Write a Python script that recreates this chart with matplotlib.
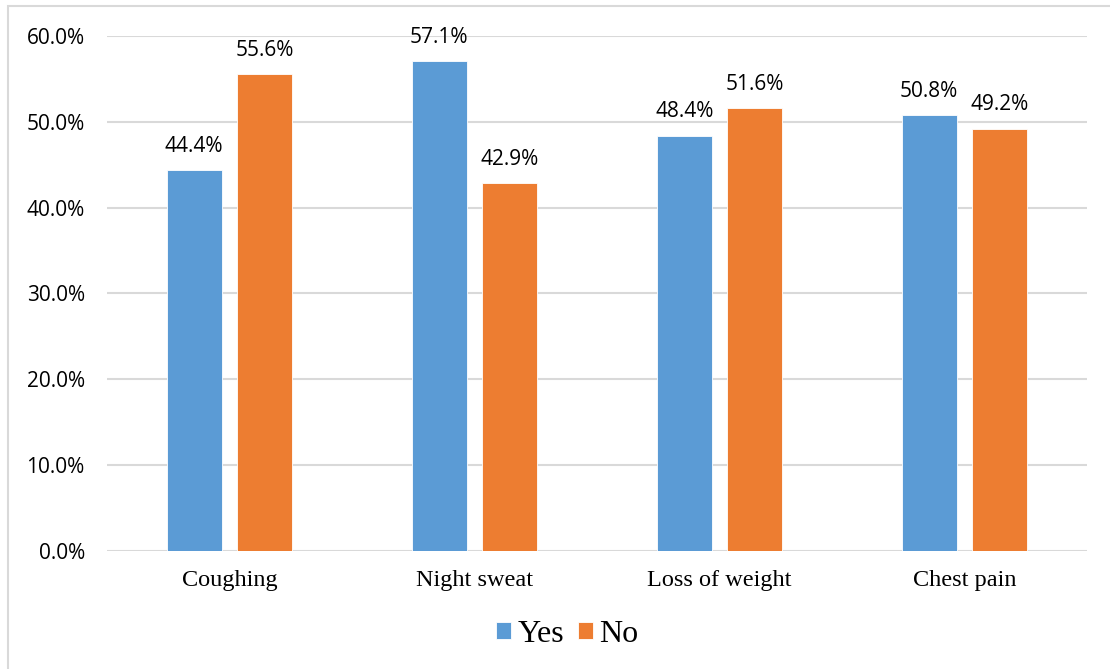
import matplotlib
matplotlib.use('Agg')
import matplotlib.pyplot as plt
import numpy as np
from matplotlib.patches import Rectangle

categories = ['Coughing', 'Night sweat', 'Loss of weight', 'Chest pain']
yes_values = [44.4, 57.1, 48.4, 50.8]
no_values = [55.6, 42.9, 51.6, 49.2]
y_ticks = [0, 10, 20, 30, 40, 50, 60]

BLUE = '#5B9BD5'
ORANGE = '#ED7D31'
GRID = '#D9D9D9'

fig = plt.figure(figsize=(11.1, 6.69), dpi=100)
ax = fig.add_axes([0.0964, 0.1764, 0.8829, 0.7698])

# light frame around the whole chart
fig.patches.append(Rectangle((0.007, -0.01), 1.0, 1.0 - 0.009 + 0.01,
                             transform=fig.transFigure, fill=False,
                             edgecolor=GRID, linewidth=1.5))

x = np.arange(len(categories))
width = 0.2245
offset = 0.144
bars_yes = ax.bar(x - offset, yes_values, width, color=BLUE, label='Yes',
                  edgecolor='white', linewidth=0.6, zorder=3)
bars_no = ax.bar(x + offset, no_values, width, color=ORANGE, label='No',
                 edgecolor='white', linewidth=0.6, zorder=3)

for bars in (bars_yes, bars_no):
    for b in bars:
        ax.annotate(f'{b.get_height():.1f}%',
                    (b.get_x() + b.get_width() / 2, b.get_height()),
                    xytext=(0, 9.5), textcoords='offset points',
                    ha='center', va='bottom', fontsize=15,
                    family='Open Sans', color='#000000')

ax.set_xlim(-0.5, len(categories) - 0.5)
ax.set_ylim(0, 60)
ax.set_yticks(y_ticks)
ax.set_yticklabels([f'{t:.1f}%' for t in y_ticks], family='Open Sans', fontsize=15)
ax.set_xticks(x)
ax.set_xticklabels(categories, family='Liberation Serif', fontsize=17.5)
ax.tick_params(axis='x', length=0, pad=14)
ax.tick_params(axis='y', length=0, pad=16)
ax.grid(axis='y', color=GRID, linewidth=1.5, zorder=0)
for s in ax.spines.values():
    s.set_visible(False)

leg = fig.legend(loc='center', bbox_to_anchor=(0.511, 0.052), ncol=2,
                 frameon=False, prop={'family': 'Liberation Serif', 'size': 23},
                 handlelength=0.47, handleheight=0.47, handletextpad=0.2,
                 columnspacing=0.45)

fig.savefig('out.png', dpi=100)
